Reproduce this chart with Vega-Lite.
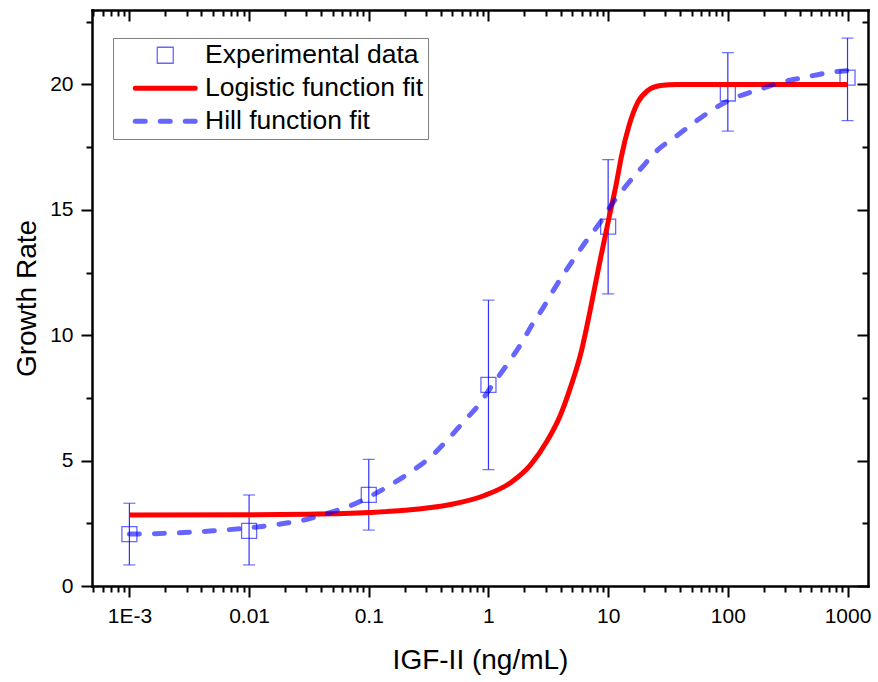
{
  "$schema": "https://vega.github.io/schema/vega-lite/v6.json",
  "width": 776,
  "height": 576,
  "autosize": {"type": "none"},
  "padding": {"left": 92, "top": 10, "right": 10, "bottom": 96},
  "background": "white",
  "config": {
    "font": "Liberation Sans",
    "view": {"stroke": null},
    "axis": {
      "grid": false,
      "domainColor": "black",
      "domainWidth": 2.5,
      "domainCap": "square",
      "tickColor": "black",
      "tickWidth": 2,
      "labelColor": "black",
      "titleColor": "black",
      "labelFont": "Liberation Sans",
      "titleFont": "Liberation Sans",
      "labelFontSize": 21,
      "titleFontSize": 28,
      "titleFontWeight": "normal",
      "labelFlush": false,
      "labelOverlap": false,
      "labelBound": false
    }
  },
  "datasets": {
    "points": [
      {"x": 0.001, "y": 2.07, "lo": 0.84, "hi": 3.3, "series": "Experimental data"},
      {"x": 0.01, "y": 2.2, "lo": 0.84, "hi": 3.63, "series": "Experimental data"},
      {"x": 0.1, "y": 3.63, "lo": 2.23, "hi": 5.05, "series": "Experimental data"},
      {"x": 1, "y": 8.02, "lo": 4.64, "hi": 11.4, "series": "Experimental data"},
      {"x": 10, "y": 14.33, "lo": 11.65, "hi": 17.0, "series": "Experimental data"},
      {"x": 100, "y": 19.64, "lo": 18.14, "hi": 21.27, "series": "Experimental data"},
      {"x": 1000, "y": 20.27, "lo": 18.56, "hi": 21.85, "series": "Experimental data"}
    ],
    "logistic": [
      {"x": 0.001, "y": 2.83, "series": "Logistic function fit"},
      {"x": 0.01, "y": 2.84, "series": "Logistic function fit"},
      {"x": 0.03, "y": 2.86, "series": "Logistic function fit"},
      {"x": 0.1, "y": 2.93, "series": "Logistic function fit"},
      {"x": 0.2, "y": 3.02, "series": "Logistic function fit"},
      {"x": 0.482, "y": 3.25, "series": "Logistic function fit"},
      {"x": 0.914, "y": 3.6, "series": "Logistic function fit"},
      {"x": 1.53, "y": 4.12, "series": "Logistic function fit"},
      {"x": 2.24, "y": 4.82, "series": "Logistic function fit"},
      {"x": 3.09, "y": 5.78, "series": "Logistic function fit"},
      {"x": 3.98, "y": 6.8, "series": "Logistic function fit"},
      {"x": 4.83, "y": 7.9, "series": "Logistic function fit"},
      {"x": 6.0, "y": 9.4, "series": "Logistic function fit"},
      {"x": 7.08, "y": 11.0, "series": "Logistic function fit"},
      {"x": 8.58, "y": 13.0, "series": "Logistic function fit"},
      {"x": 10.1, "y": 14.62, "series": "Logistic function fit"},
      {"x": 11.6, "y": 15.95, "series": "Logistic function fit"},
      {"x": 13.0, "y": 17.2, "series": "Logistic function fit"},
      {"x": 14.9, "y": 18.34, "series": "Logistic function fit"},
      {"x": 17.6, "y": 19.27, "series": "Logistic function fit"},
      {"x": 21.2, "y": 19.74, "series": "Logistic function fit"},
      {"x": 27.4, "y": 19.96, "series": "Logistic function fit"},
      {"x": 37.5, "y": 20.0, "series": "Logistic function fit"},
      {"x": 100, "y": 20.0, "series": "Logistic function fit"},
      {"x": 1000, "y": 20.0, "series": "Logistic function fit"}
    ],
    "hill": [
      {"x": 0.001, "y": 2.07, "series": "Hill function fit"},
      {"x": 0.002, "y": 2.1, "series": "Hill function fit"},
      {"x": 0.005, "y": 2.2, "series": "Hill function fit"},
      {"x": 0.01, "y": 2.32, "series": "Hill function fit"},
      {"x": 0.02, "y": 2.5, "series": "Hill function fit"},
      {"x": 0.03, "y": 2.65, "series": "Hill function fit"},
      {"x": 0.046, "y": 2.91, "series": "Hill function fit"},
      {"x": 0.07, "y": 3.2, "series": "Hill function fit"},
      {"x": 0.1, "y": 3.55, "series": "Hill function fit"},
      {"x": 0.152, "y": 4.03, "series": "Hill function fit"},
      {"x": 0.224, "y": 4.55, "series": "Hill function fit"},
      {"x": 0.329, "y": 5.15, "series": "Hill function fit"},
      {"x": 0.455, "y": 5.83, "series": "Hill function fit"},
      {"x": 0.62, "y": 6.55, "series": "Hill function fit"},
      {"x": 0.83, "y": 7.23, "series": "Hill function fit"},
      {"x": 1.08, "y": 8.02, "series": "Hill function fit"},
      {"x": 1.44, "y": 8.85, "series": "Hill function fit"},
      {"x": 1.85, "y": 9.62, "series": "Hill function fit"},
      {"x": 2.37, "y": 10.5, "series": "Hill function fit"},
      {"x": 2.87, "y": 11.1, "series": "Hill function fit"},
      {"x": 3.5, "y": 11.8, "series": "Hill function fit"},
      {"x": 4.2, "y": 12.4, "series": "Hill function fit"},
      {"x": 5.1, "y": 13.0, "series": "Hill function fit"},
      {"x": 6.43, "y": 13.7, "series": "Hill function fit"},
      {"x": 8.58, "y": 14.5, "series": "Hill function fit"},
      {"x": 11.0, "y": 15.3, "series": "Hill function fit"},
      {"x": 13.8, "y": 15.9, "series": "Hill function fit"},
      {"x": 19.2, "y": 16.7, "series": "Hill function fit"},
      {"x": 26.1, "y": 17.4, "series": "Hill function fit"},
      {"x": 36.2, "y": 17.9, "series": "Hill function fit"},
      {"x": 53, "y": 18.5, "series": "Hill function fit"},
      {"x": 81, "y": 19.1, "series": "Hill function fit"},
      {"x": 119, "y": 19.5, "series": "Hill function fit"},
      {"x": 184, "y": 19.8, "series": "Hill function fit"},
      {"x": 286, "y": 20.1, "series": "Hill function fit"},
      {"x": 455, "y": 20.3, "series": "Hill function fit"},
      {"x": 750, "y": 20.5, "series": "Hill function fit"},
      {"x": 1000, "y": 20.55, "series": "Hill function fit"}
    ]
  },
  "resolve": {"axis": {"x": "independent", "y": "independent"}},
  "layer": [
    {
      "data": {"name": "points"},
      "mark": {"type": "errorbar", "ticks": {"size": 12}, "color": "#3333ff", "thickness": 1.2},
      "encoding": {
        "x": {"field": "x", "type": "quantitative", "scale": {"type": "log", "domain": [0.000487, 1483], "nice": false}, "axis": null},
        "y": {"field": "lo", "type": "quantitative", "scale": {"domain": [0, 22.97], "nice": false, "zero": false}, "axis": null},
        "y2": {"field": "hi"}
      }
    },
    {
      "data": {"name": "points"},
      "mark": {"type": "point", "shape": "square", "filled": false, "size": 225, "strokeWidth": 1.3, "opacity": 0.6},
      "encoding": {
        "x": {"field": "x", "type": "quantitative", "axis": null},
        "y": {"field": "y", "type": "quantitative", "axis": null},
        "color": {
          "field": "series",
          "type": "nominal",
          "scale": {"domain": ["Experimental data", "Logistic function fit", "Hill function fit"], "range": ["#0000ff", "#ff0000", "#0000ff"]},
          "legend": {
            "title": null,
            "orient": "none",
            "legendX": 21,
            "legendY": 28,
            "direction": "vertical",
            "labelFont": "Liberation Sans",
            "labelFontSize": 26.5,
            "labelColor": "black",
            "labelLimit": 600,
            "labelExpr": "datum.label + '\u00a0\u00a0'",
            "padding": 4,
            "rowPadding": 6,
            "symbolOffset": 35,
            "labelOffset": 26.5,
            "strokeColor": "#808080",
            "fillColor": "white",
            "symbolType": "stroke",
            "symbolSize": 400,
            "symbolStrokeWidth": 5,
            "encoding": {
              "symbols": {
                "shape": {"value": {"expr": "datum.value == 'Experimental data' ? 'M-0.8,-0.8H0.8V0.8H-0.8Z' : 'M-3,0H3'"}},
                "size": {"value": 400},
                "strokeWidth": {"value": {"expr": "datum.value == 'Experimental data' ? 1.3 : 5"}},
                "strokeDash": {"value": {"expr": "datum.value == 'Hill function fit' ? [10, 15] : [1, 0]"}},
                "strokeCap": {"value": "round"},
                "opacity": {"value": {"expr": "datum.value == 'Logistic function fit' ? 1 : 0.6"}},
                "fill": {"value": "transparent"}
              }
            }
          }
        }
      }
    },
    {
      "data": {"name": "logistic"},
      "mark": {"type": "line", "strokeWidth": 5, "interpolate": "monotone"},
      "encoding": {
        "x": {
          "field": "x", "type": "quantitative",
          "axis": {
            "orient": "bottom",
            "title": "IGF-II (ng/mL)",
            "values": [0.0005,0.0006,0.0007,0.0008,0.0009,0.001,0.002,0.003,0.004,0.005,0.006,0.007,0.008,0.009,0.01,0.02,0.03,0.04,0.05,0.06,0.07,0.08,0.09,0.1,0.2,0.3,0.4,0.5,0.6,0.7,0.8,0.9,1,2,3,4,5,6,7,8,9,10,20,30,40,50,60,70,80,90,100,200,300,400,500,600,700,800,900,1000],
            "tickSize": {"condition": {"test": "abs(log(datum.value)/LN10 - round(log(datum.value)/LN10)) < 0.01", "value": 11}, "value": 6},
            "labelExpr": "datum.value < 0.002 && datum.value > 0.0009 ? '1E-3' : (abs(log(datum.value)/LN10 - round(log(datum.value)/LN10)) < 0.01 ? format(datum.value, '~g') : '')",
            "labelPadding": 8,
            "titlePadding": 20
          }
        },
        "y": {
          "field": "y", "type": "quantitative",
          "axis": {
            "orient": "left",
            "title": "Growth Rate",
            "values": [0, 2.5, 5, 7.5, 10, 12.5, 15, 17.5, 20, 22.5],
            "tickSize": {"condition": {"test": "datum.value % 5 == 0", "value": 11}, "value": 6},
            "labelExpr": "datum.value % 5 == 0 ? format(datum.value, 'd') : ''",
            "labelPadding": 8,
            "titlePadding": 8
          }
        },
        "color": {"field": "series", "type": "nominal"}
      }
    },
    {
      "data": {"name": "hill"},
      "mark": {"type": "line", "strokeWidth": 5, "strokeDash": [10, 15], "strokeCap": "round", "opacity": 0.6, "interpolate": "monotone"},
      "encoding": {
        "x": {
          "field": "x", "type": "quantitative",
          "axis": {
            "orient": "top",
            "title": null,
            "labels": false,
            "values": [0.0005,0.0006,0.0007,0.0008,0.0009,0.001,0.002,0.003,0.004,0.005,0.006,0.007,0.008,0.009,0.01,0.02,0.03,0.04,0.05,0.06,0.07,0.08,0.09,0.1,0.2,0.3,0.4,0.5,0.6,0.7,0.8,0.9,1,2,3,4,5,6,7,8,9,10,20,30,40,50,60,70,80,90,100,200,300,400,500,600,700,800,900,1000],
            "tickSize": {"condition": {"test": "abs(log(datum.value)/LN10 - round(log(datum.value)/LN10)) < 0.01", "value": -11}, "value": -6}
          }
        },
        "y": {
          "field": "y", "type": "quantitative",
          "axis": {
            "orient": "right",
            "title": null,
            "labels": false,
            "values": [0, 2.5, 5, 7.5, 10, 12.5, 15, 17.5, 20, 22.5],
            "tickSize": {"condition": {"test": "datum.value % 5 == 0", "value": -11}, "value": -6}
          }
        },
        "color": {"field": "series", "type": "nominal"}
      }
    }
  ]
}
